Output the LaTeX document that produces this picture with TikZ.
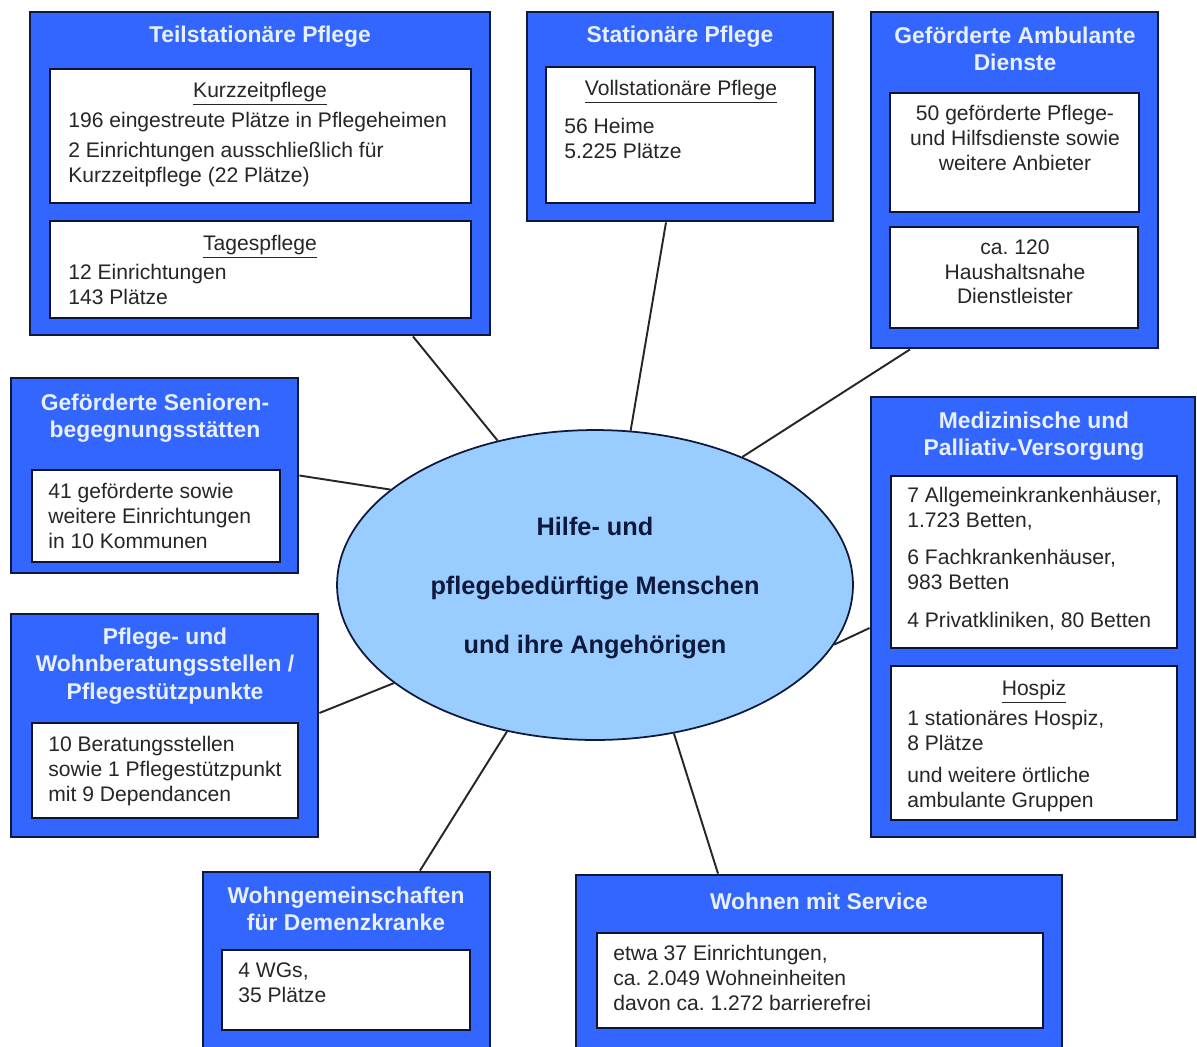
\documentclass[tikz,border=0pt]{standalone}
\usepackage{fontspec}
\setmainfont{Liberation Sans}
\usetikzlibrary{shapes.geometric,fit}
\frenchspacing

\definecolor{boxblue}{RGB}{51,102,255}
\definecolor{ovalblue}{RGB}{153,204,255}
\definecolor{titlewhite}{RGB}{232,240,255}
\definecolor{rimnavy}{RGB}{15,25,60}

\tikzset{
  outerbox/.style={draw=rimnavy, line width=1.6pt, fill=boxblue, inner sep=0pt},
  innerbox/.style={draw=rimnavy!80!black, line width=1pt, fill=white, inner sep=0pt},
  boxtitle/.style={text=titlewhite, font=\fontsize{13}{15.5}\selectfont\bfseries, align=center, inner sep=0pt},
  bodytext/.style={font=\fontsize{12}{14.2}\selectfont, align=left, anchor=north west, inner sep=0pt, text=black!85},
  midtext/.style={font=\fontsize{12}{14.2}\selectfont, align=center, anchor=north, inner sep=0pt, text=black!85},
  link/.style={draw=black!85, line width=1.1pt}
}

\begin{document}
\begin{tikzpicture}[x=0.02cm,y=-0.02cm]
  \useasboundingbox (0,0) rectangle (1197,1046);

  % centre
  \node[ellipse, draw=rimnavy, line width=1pt, fill=ovalblue, minimum width=10.32cm, minimum height=6.2cm,
        text=rimnavy, inner sep=0pt] (hub) at (595,585) {};
  \node[align=center, text=rimnavy, font=\fontsize{14.4}{33.4}\selectfont\bfseries] (hubtext) at (595,588)
        {Hilfe- und\\pflegebedürftige Menschen\\und ihre Angehörigen};

  % Teilstationaere Pflege
  \node[outerbox, fit={(30,12) (490,335)}] (ts) {};
  \node[boxtitle] (tstitle) at (260,37) {Teilstationäre Pflege};
  \node[innerbox, fit={(50,69) (471,203)}] (kzp) {};
  \node[midtext] (kzphead) at (260,82) {\underline{Kurzzeitpflege}};
  \node[bodytext] (kzptext) at (68,112) {196 eingestreute Plätze in Pflegeheimen\\[3pt]2 Einrichtungen ausschließlich für\\Kurzzeitpflege (22 Plätze)};
  \node[innerbox, fit={(50,221) (471,318)}] (tgp) {};
  \node[midtext] (tgphead) at (260,235) {\underline{Tagespflege}};
  \node[bodytext] (tgptext) at (68,264) {12 Einrichtungen\\143 Plätze};

  % Stationaere Pflege
  \node[outerbox, fit={(527,12) (833,221)}] (st) {};
  \node[boxtitle] (sttitle) at (680,37) {Stationäre Pflege};
  \node[innerbox, fit={(546,67) (815,203)}] (vsp) {};
  \node[midtext] (vsphead) at (681,80) {\underline{Vollstationäre Pflege}};
  \node[bodytext] (vsptext) at (564,118) {56 Heime\\5.225 Plätze};

  % Ambulante Dienste
  \node[outerbox, fit={(871,12) (1158,348)}] (amb) {};
  \node[boxtitle] (ambtitle) at (1015,49) {Geförderte Ambulante\\Dienste};
  \node[innerbox, fit={(890,93) (1139,212)}] (amb1) {};
  \node[midtext] (amb1text) at (1015,105) {50 geförderte Pflege-\\und Hilfsdienste sowie\\weitere Anbieter};
  \node[innerbox, fit={(890,227) (1138,328)}] (amb2) {};
  \node[midtext] (amb2text) at (1015,239) {ca. 120\\Haushaltsnahe\\Dienstleister};

  % Seniorenbegegnungsstaetten
  \node[outerbox, fit={(11,378) (298,573)}] (sen) {};
  \node[boxtitle] (sentitle) at (155,418.5) {Geförderte Senioren-\\begegnungsstätten};
  \node[innerbox, fit={(32,470) (280,562)}] (senin) {};
  \node[bodytext] (sentext) at (48,483) {41 geförderte sowie\\weitere Einrichtungen\\in 10 Kommunen};

  % Beratungsstellen
  \node[outerbox, fit={(11,614) (318,837)}] (ber) {};
  \node[boxtitle] (bertitle) at (165,666) {Pflege- und\\Wohnberatungsstellen /\\Pflegestützpunkte};
  \node[innerbox, fit={(32,723) (298,818)}] (berin) {};
  \node[bodytext] (bertext) at (48,736) {10 Beratungsstellen\\sowie 1 Pflegestützpunkt\\mit 9 Dependancen};

  % Medizinische Versorgung
  \node[outerbox, fit={(871,397) (1195,837)}] (med) {};
  \node[boxtitle] (medtitle) at (1034,436.5) {Medizinische und\\Palliativ-Versorgung};
  \node[innerbox, fit={(891,476) (1177,648)}] (medin) {};
  \node[bodytext] (medtext) at (907,487) {7 Allgemeinkrankenhäuser,\\1.723 Betten,\\[7pt]6 Fachkrankenhäuser,\\983 Betten\\[7pt]4 Privatkliniken, 80 Betten};
  \node[innerbox, fit={(891,666) (1177,820)}] (hosp) {};
  \node[midtext] (hosphead) at (1034,680) {\underline{Hospiz}};
  \node[bodytext] (hosptext) at (907,710) {1 stationäres Hospiz,\\8 Plätze\\[4pt]und weitere örtliche\\ambulante Gruppen};

  % Wohngemeinschaften
  \node[outerbox, fit={(203,872) (490,1056)}] (wg) {};
  \node[boxtitle] (wgtitle) at (346,909) {Wohngemeinschaften\\für Demenzkranke};
  \node[innerbox, fit={(222,950) (470,1030)}] (wgin) {};
  \node[bodytext] (wgtext) at (238,962) {4 WGs,\\35 Plätze};

  % Wohnen mit Service
  \node[outerbox, fit={(576,875) (1062,1056)}] (ws) {};
  \node[boxtitle] (wstitle) at (819,901) {Wohnen mit Service};
  \node[innerbox, fit={(597,933) (1043,1028)}] (wsin) {};
  \node[bodytext] (wstext) at (613,945) {etwa 37 Einrichtungen,\\ca. 2.049 Wohneinheiten\\davon ca. 1.272 barrierefrei};

  % spokes
  \draw[link] ([xshift=3.06cm]ts.south) -- (hub.124);
  \draw[link] ([xshift=-0.28cm]st.south) -- (hub.77.3);
  \draw[link] ([xshift=-2.09cm]amb.south) -- (hub.41.9);
  \draw[link] (sen.east) -- (hub.155.3);
  \draw[link] ([yshift=0.25cm]ber.east) -- (hub.206.8);
  \draw[link] ([yshift=-0.22cm]med.west) -- (hub.-14.7);
  \draw[link] ([xshift=1.47cm]wg.north) -- (hub.239.6);
  \draw[link] ([xshift=-2.02cm]ws.north) -- (hub.-62.5);
\end{tikzpicture}
\end{document}
